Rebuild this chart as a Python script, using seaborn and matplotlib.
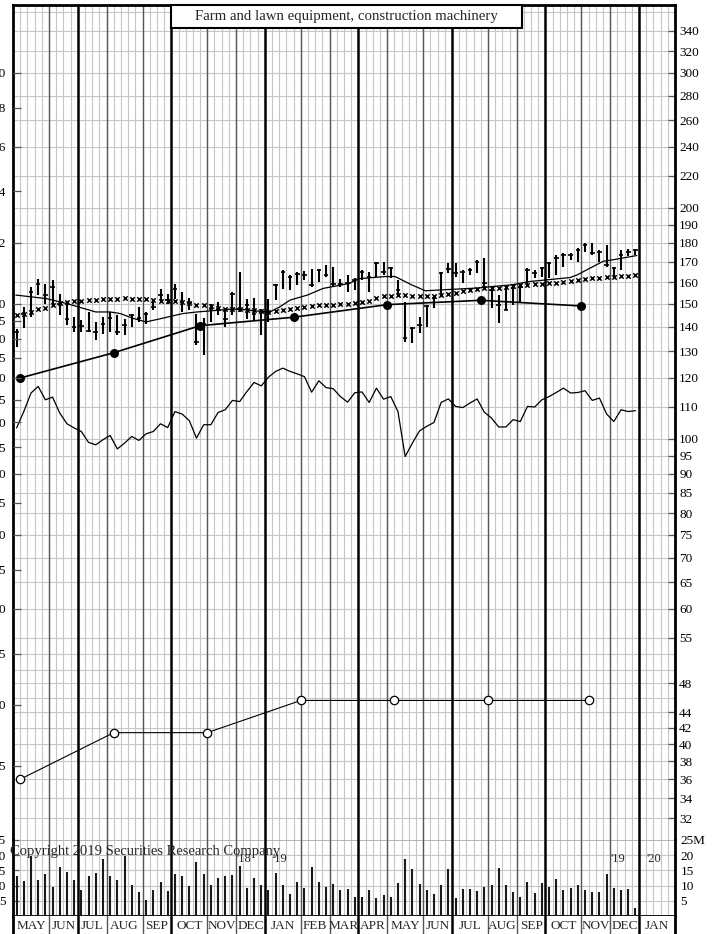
import numpy as np
import seaborn as sns
import matplotlib.pyplot as plt
from matplotlib.patches import Rectangle
from matplotlib.ticker import NullLocator

# ---- time axis: weeks per month, May 2018 .. Jan 2020 ----
months = ["MAY", "JUN", "JUL", "AUG", "SEP", "OCT", "NOV", "DEC", "JAN", "FEB", "MAR",
          "APR", "MAY", "JUN", "JUL", "AUG", "SEP", "OCT", "NOV", "DEC", "JAN"]
weeks_in_month = [5, 4, 4, 5, 4, 5, 4, 4, 5, 4, 4, 4, 5, 4, 5, 4, 4, 5, 4, 4, 5]

# ---- weekly price bars ----
high = [139.1, 148.6, 157.8, 161.6, 159.2, 161.1, 154.5, 150.8, 144.2, 142.9,
        146.3, 142.0, 144.2, 146.3, 145.0, 143.3, 145.4, 148.6, 146.3, 152.2,
        156.9, 154.5, 159.2, 155.4, 152.6, 145.4, 143.7, 149.9, 150.8, 147.7,
        155.4, 164.9, 152.2, 152.6, 147.7, 152.2, 159.2, 166.0, 163.5, 164.9,
        165.5, 166.5, 166.5, 168.5, 167.5, 161.6, 163.5, 162.0, 166.0, 164.9,
        170.1, 170.1, 167.5, 161.1, 150.8, 140.0, 144.2, 149.5, 154.0, 164.9,
        169.5, 169.5, 166.0, 167.0, 171.1, 172.1, 157.3, 154.0, 157.8, 158.7,
        158.7, 167.0, 166.0, 167.5, 170.1, 173.6, 174.6, 174.6, 177.2, 179.8,
        179.8, 176.2, 178.9, 167.5, 176.2, 176.7, 176.7]
low = [131.8, 139.5, 144.2, 154.0, 149.9, 148.6, 145.0, 140.8, 137.9, 137.9,
       137.9, 134.6, 137.0, 137.9, 136.6, 136.6, 140.0, 142.0, 141.3, 147.2,
       150.8, 149.9, 152.2, 146.3, 147.2, 132.6, 128.7, 142.0, 145.0, 140.0,
       145.0, 146.3, 143.3, 142.9, 136.6, 142.0, 151.7, 156.9, 156.4, 158.7,
       161.1, 157.8, 160.1, 162.5, 157.8, 157.8, 155.4, 156.4, 161.1, 155.4,
       162.5, 163.5, 162.0, 153.1, 133.8, 133.4, 137.5, 140.0, 148.1, 153.1,
       164.4, 162.5, 159.7, 163.5, 164.4, 156.4, 148.1, 141.6, 147.2, 149.5,
       150.8, 157.8, 162.0, 162.5, 162.0, 163.5, 167.5, 171.1, 170.1, 175.2,
       173.6, 170.1, 167.5, 162.0, 166.0, 173.1, 173.6]
close = [137.9, 145.4, 155.4, 159.2, 154.0, 157.8, 149.9, 143.3, 140.0, 140.4,
         138.3, 137.9, 141.3, 143.7, 137.9, 140.8, 145.0, 143.7, 145.4, 148.6,
         154.0, 151.7, 156.9, 150.8, 150.4, 133.8, 141.3, 147.7, 147.7, 143.3,
         154.5, 147.7, 149.5, 145.4, 146.3, 146.3, 158.7, 164.9, 162.5, 164.0,
         163.5, 158.7, 166.0, 163.5, 159.2, 159.2, 159.7, 161.1, 164.9, 162.5,
         169.5, 164.9, 167.0, 156.4, 135.4, 139.5, 140.8, 149.0, 152.6, 164.4,
         166.5, 164.4, 164.9, 166.0, 170.1, 159.7, 156.4, 149.5, 147.2, 157.3,
         157.8, 166.0, 164.4, 167.0, 169.5, 172.1, 173.6, 173.6, 176.2, 178.9,
         174.6, 175.2, 168.5, 167.0, 173.6, 175.2, 176.2]

# ---- short moving average (solid line), read at these weeks ----
ma_week = [0.4, 4.6, 7.4, 11.5, 13.5, 14.9, 16.7, 18.5, 20.4, 23.6, 25.6, 30.2,
           31.5, 34.3, 35.7, 37.1, 38.5, 40.9, 43.1, 46.8, 47.9, 51.7, 53.1, 55.4,
           57.3, 60.0, 64.6, 66.6, 69.3, 71.8, 77.4, 78.4, 82.0, 83.4, 86.7]
ma_short = [153.9, 152.3, 150.1, 146.3, 146.3, 145.6, 143.5, 142.0, 143.3, 145.6,
            146.3, 147.5, 147.5, 146.6, 146.3, 148.6, 151.6, 153.9, 157.0, 159.4,
            161.6, 162.7, 162.7, 158.7, 155.9, 156.4, 157.2, 157.9, 158.7, 160.3,
            162.2, 163.5, 170.3, 171.1, 173.3]

# ---- long moving average (x marks), one per week ----
ma_long = [144.9, 145.6, 146.5, 147.4, 148.1, 149.4, 150.1, 150.6, 151.2, 151.2,
           151.5, 151.7, 151.9, 152.0, 152.2, 152.4, 152.3, 152.1, 151.9, 151.7,
           151.4, 151.4, 151.1, 150.9, 150.1, 149.6, 149.3, 149.0, 148.1, 147.5,
           147.5, 147.5, 147.3, 147.1, 146.6, 146.3, 146.8, 147.1, 147.5, 148.1,
           148.6, 149.0, 149.2, 149.4, 149.6, 149.8, 149.8, 150.3, 150.8, 151.4,
           152.4, 153.3, 153.7, 154.0, 153.8, 153.7, 153.7, 153.7, 153.7, 154.0,
           154.4, 155.0, 155.6, 156.1, 156.7, 157.4, 157.4, 157.4, 157.8, 158.2,
           158.5, 158.8, 159.0, 159.2, 159.4, 159.8, 160.2, 160.6, 161.1, 161.6,
           161.9, 162.2, 162.4, 162.7, 162.9, 163.1, 163.5]

# ---- relative strength line (plotted on price scale) ----
rel_strength = [103.3, 108.5, 114.7, 117.0, 112.4, 113.3, 108.0, 104.6, 103.3, 102.2,
                98.9, 98.2, 99.7, 101.0, 97.0, 98.7, 100.7, 99.5, 101.5, 102.2,
                104.6, 103.4, 108.5, 107.7, 105.6, 100.2, 104.3, 104.3, 108.2, 109.1,
                112.2, 111.8, 115.2, 118.4, 117.2, 120.3, 122.4, 123.6, 122.4, 121.5,
                120.5, 115.0, 119.0, 116.6, 116.2, 113.5, 111.6, 114.8, 115.1, 111.5,
                116.4, 112.6, 113.5, 108.5, 94.8, 98.7, 102.4, 103.8, 105.0, 111.5,
                112.7, 110.2, 109.8, 111.3, 112.7, 108.3, 106.4, 103.6, 103.6, 105.9,
                105.3, 110.2, 110.0, 112.4, 113.5, 114.9, 116.4, 114.7, 114.9, 115.5,
                112.2, 113.0, 107.7, 105.3, 109.1, 108.5, 108.8]

# ---- weekly volume, millions of shares ----
volume = [13.1, 11.4, 19.8, 11.7, 13.9, 9.6, 16.2, 14.4, 11.7, 8.7,
          13.1, 14.2, 18.7, 13.3, 11.7, 19.8, 10.1, 7.8, 5.3, 8.7,
          11.3, 8.3, 13.9, 13.3, 9.8, 17.6, 13.9, 10.1, 12.4, 13.1,
          13.4, 16.4, 9.2, 12.6, 10.1, 8.4, 14.2, 10.3, 7.3, 11.3,
          9.2, 16.2, 11.1, 9.4, 10.6, 8.7, 8.9, 6.2, 6.2, 8.7,
          5.9, 7.0, 6.4, 10.7, 18.9, 15.3, 10.6, 8.7, 7.3, 10.3,
          15.6, 5.9, 8.9, 8.9, 8.1, 9.4, 10.3, 15.7, 10.2, 7.9,
          6.4, 11.2, 7.6, 10.9, 9.6, 12.2, 8.7, 9.1, 10.2, 8.7,
          7.8, 7.8, 13.7, 9.2, 8.7, 8.9, 2.6]

# ---- earnings (12 mo.) and dividends (annual rate), left scale ----
earn_week = [1, 14, 26, 39, 52, 65, 79]
earnings = [8.00, 8.63, 9.36, 9.60, 9.97, 10.10, 9.93]
div_week = [1, 14, 27, 40, 53, 66, 80]
dividends = [2.40, 2.76, 2.76, 3.04, 3.04, 3.04, 3.04]
ratio = 15  # price / earnings scale

price_ticks = [340, 320, 300, 280, 260, 240, 220, 200, 190, 180, 170, 160, 150, 140,
               130, 120, 110, 100, 95, 90, 85, 80, 75, 70, 65, 60, 55, 48, 44, 42,
               40, 38, 36, 34, 32]
price_grid = [360, 52.5, 50, 46]
earn_ticks = [20, 18, 16, 14, 12, 10, 9.5, 9.0, 8.5, 8.0, 7.5, 7.0, 6.5, 6.0, 5.5,
              5.0, 4.5, 4.0, 3.5, 3.0, 2.5]
vol_ticks = [5, 10, 15, 20, 25]

sns.set_style("white")
plt.rcParams['font.family'] = ['Liberation Serif', 'DejaVu Serif']

W, H = 724, 934
fig = plt.figure(figsize=(W / 100, H / 100), dpi=100)


def box(l, t, r, b):
    return [l / W, 1 - b / H, (r - l) / W, (b - t) / H]


ax = fig.add_axes(box(13, 5, 675, 840))
axv = fig.add_axes(box(13, 840, 675, 916), sharex=ax)
axm = fig.add_axes(box(13, 916, 675, 934), sharex=ax)

# twin axes for the left-hand scales (created first: twinx moves ticks)
axl = ax.twinx()
axvr = axv.twinx()

GRID = '#c6c6c6'
ax.set_yscale('log')
axl.set_yscale('log')
ylim = (30, 367.5)
ax.set_ylim(*ylim)
ax.set_xlim(0, sum(weeks_in_month))
axv.set_ylim(0, 25)
axvr.set_ylim(0, 25)
axm.set_ylim(0, 1)

# weekly grid + month / quarter lines
bounds = np.cumsum([0] + weeks_in_month)
for k in range(bounds[-1] + 1):
    ax.axvline(k, color=GRID, lw=0.8, zorder=0)
    axv.axvline(k, color=GRID, lw=0.8, zorder=0)
for j, b in enumerate(bounds[1:-1]):
    quarter = months[j + 1] in ("JAN", "APR", "JUL", "OCT")
    c, w = ('black', 1.8) if quarter else ('#555555', 1.0)
    for a in (ax, axv, axm):
        a.axvline(b, color=c, lw=w, zorder=1)

for p in price_ticks + price_grid:
    ax.axhline(p, color=GRID, lw=0.8, zorder=0)
for v in vol_ticks[:-1]:
    axv.axhline(v, color=GRID, lw=0.8, zorder=0)
axv.axhline(25, color='#a8a8a8', lw=1.2, zorder=0)

# price bars
x = np.arange(len(close)) + 0.5
ax.vlines(x, low, high, color='black', lw=1.5, zorder=4)
ax.hlines(close, x - 0.32, x + 0.32, color='black', lw=1.2, zorder=4)

sns.lineplot(x=ma_week, y=ma_short, ax=ax, color='black', lw=0.9, zorder=3)
sns.scatterplot(x=x, y=ma_long, ax=ax, marker='x', s=10, color='black',
                linewidth=1.1, zorder=3)
sns.lineplot(x=x, y=rel_strength, ax=ax, color='black', lw=0.9, zorder=3)
sns.lineplot(x=earn_week, y=np.array(earnings) * ratio, ax=ax, color='black',
             lw=1.2, marker='o', markersize=6.5, markeredgewidth=0, zorder=5)
sns.lineplot(x=div_week, y=np.array(dividends) * ratio, ax=ax, color='black',
             lw=0.8, marker='o', markersize=6, markerfacecolor='white',
             markeredgecolor='black', markeredgewidth=0.9, zorder=5)

# volume
axv.vlines(x, 0, volume, color='#1a1a1a', lw=1.5, zorder=3)

# ---- axes styling ----
for a in (ax, axv, axm, axl, axvr):
    a.set_xlabel('')
    a.set_ylabel('')
    a.tick_params(axis='x', which='both', bottom=False, top=False, labelbottom=False)
    for s in a.spines.values():
        s.set_visible(False)
        s.set_color('black')
        s.set_linewidth(2)
ax.set_xlim(0, bounds[-1])
ax.set_ylim(*ylim)
for s in ('top', 'left', 'right'):
    ax.spines[s].set_visible(True)
for s in ('bottom', 'left', 'right'):
    axv.spines[s].set_visible(True)
for s in ('left', 'right'):
    axm.spines[s].set_visible(True)
axm.set_yticks([])

# right-hand price scale
ax.yaxis.tick_right()
ax.set_yticks(price_ticks, labels=[str(t) for t in price_ticks])
ax.yaxis.set_minor_locator(NullLocator())
ax.tick_params(axis='y', which='both', left=False, labelleft=False, right=True,
               labelright=True, direction='in', length=5, width=0.9, pad=3,
               color='#555555', labelcolor='black', labelsize=9.5)

# left-hand earnings scale
axl.set_ylim(*ylim)
axl.yaxis.tick_left()
axl.set_yticks([e * ratio for e in earn_ticks],
               labels=[f"{e:.0f}" if e >= 10 else f"{e:.1f}" for e in earn_ticks])
axl.yaxis.set_minor_locator(NullLocator())
axl.tick_params(axis='y', which='both', right=False, labelright=False, left=True,
                labelleft=True, direction='in', length=6, width=0.9, pad=5,
                color='#555555', labelcolor='black', labelsize=9.5)

# volume scales
axv.yaxis.tick_left()
axv.set_yticks(vol_ticks, labels=[str(v) for v in vol_ticks])
axv.tick_params(axis='y', right=False, labelright=False, left=True, labelleft=True,
                direction='in', length=4, width=0.9, pad=5, color='#555555',
                labelcolor='black', labelsize=9.5)
axvr.yaxis.tick_right()
axvr.set_yticks(vol_ticks, labels=[str(v) for v in vol_ticks[:-1]] + ["25M"])
axvr.tick_params(axis='y', left=False, labelleft=False, right=True, labelright=True,
                 length=0, pad=4, labelcolor='black', labelsize=9.5)

# month labels
for j, name in enumerate(months):
    axm.text((bounds[j] + bounds[j + 1]) / 2, 0.45, name, ha='center', va='center',
             fontsize=9.5)

# year marks in volume panel
for wk, lab in [(31.1, "'18"), (36.0, "'19"), (83.1, "'19"), (88.0, "'20")]:
    axv.text(wk, 18.6, lab, fontsize=9, ha='left', va='center', zorder=6)

# title box
ax.add_patch(Rectangle((0.2387, 0.9725), 0.5302, 0.0275, transform=ax.transAxes,
                       facecolor='white', edgecolor='black', lw=1.5, zorder=10,
                       clip_on=False))
ax.text(0.5038, 0.9862, "Farm and lawn equipment, construction machinery",
        transform=ax.transAxes, ha='center', va='center', fontsize=10.7, zorder=11)

fig.text(10 / W, 1 - 851 / H, "Copyright 2019 Securities Research Company",
         fontsize=10.5, ha='left', va='center')

fig.savefig("out.png", dpi=100)
